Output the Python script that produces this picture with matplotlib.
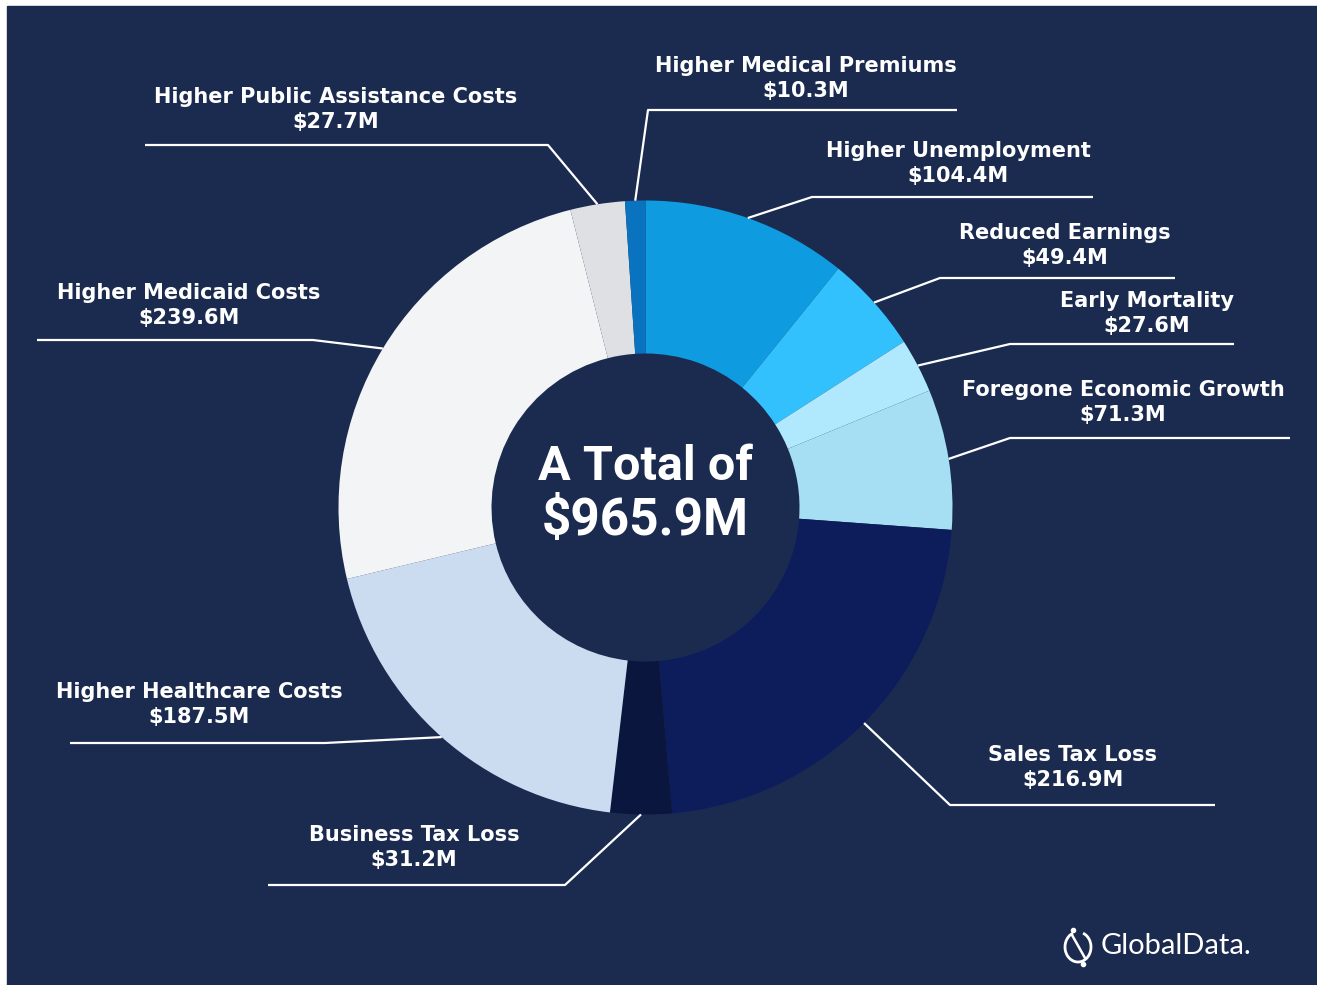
import numpy as np
import matplotlib
matplotlib.use("Agg")
from matplotlib import pyplot as plt
from matplotlib.patches import Rectangle, Arc

# Valores (em milhões de dólares), no sentido horário a partir do topo
categorias = ['Higher Unemployment', 'Reduced Earnings', 'Early Mortality',
              'Foregone Economic Growth', 'Sales Tax Loss', 'Business Tax Loss',
              'Higher Healthcare Costs', 'Higher Medicaid Costs',
              'Higher Public Assistance Costs', 'Higher Medical Premiums']
valores = [104.4, 49.4, 27.6, 71.3, 216.9, 31.2, 187.5, 239.6, 27.7, 10.3]
rotulos = ['$104.4M', '$49.4M', '$27.6M', '$71.3M', '$216.9M', '$31.2M',
           '$187.5M', '$239.6M', '$27.7M', '$10.3M']
cores = ['#0f9be0', '#33c1fd', '#b0e9fd', '#a6def3', '#0d1d5b', '#0b163e',
         '#ccdcf0', '#f3f4f6', '#dfe0e3', '#0a73c0']
total_txt = '$965.9M'

fundo = '#1b2b50'
W, H = 1317, 985

fig = plt.figure(figsize=(W / 100, H / 100), dpi=100, facecolor='white')
ax = fig.add_axes([0, 0, 1, 1])
ax.add_patch(Rectangle((7, 0), W - 7, H - 6, color=fundo, zorder=0))

# centro e raio em pixels (y invertido)
cx, cy, R = 645.5, H - 507.5, 307
ax.pie(valores, colors=cores, startangle=90, counterclock=False,
       radius=R, center=(cx, cy), frame=True,
       wedgeprops=dict(width=153, linewidth=0))
ax.set_xlim(0, W)
ax.set_ylim(0, H)
ax.set_aspect('equal')
ax.axis('off')

# texto central
ax.text(cx, H - 467, 'A Total of', ha='center', va='center', color='white',
        fontsize=35, fontweight='bold', family='Roboto')
ax.text(cx, H - 521, total_txt, ha='center', va='center', color='white',
        fontsize=37, fontweight='bold', family='Roboto')

# posição dos rótulos: (cotovelo x, cotovelo y, fim da linha x, texto x, texto y)
layout = [
    (812, 197, 1093, 958, 151),
    (940, 278, 1175, 1065, 233),
    (1010, 344, 1234, 1147, 301),
    (1010, 438, 1290, 1123, 390),
    (950, 805, 1215, 1073, 755),
    (565, 885, 268, 414, 835),
    (325, 743, 70, 199, 692),
    (313, 340, 37, 189, 293),
    (548, 145, 145, 336, 97),
    (648, 110, 957, 806, 66),
]

acum = np.cumsum([0] + valores)
tot = acum[-1]
for i, (nome, rot) in enumerate(zip(categorias, rotulos)):
    meio = (acum[i] + valores[i] / 2) / tot * 2 * np.pi
    x0 = cx + R * np.sin(meio)
    y0 = cy + R * np.cos(meio)
    ex, ey, fx, tx, ty = layout[i]
    ax.plot([x0, ex, fx], [y0, H - ey, H - ey], color='white', lw=1.6,
            solid_capstyle='butt', zorder=3)
    ax.text(tx, H - ty, nome, ha='center', va='center', color='white',
            fontsize=15, fontweight='bold')
    ax.text(tx, H - ty - 25, rot, ha='center', va='center', color='white',
            fontsize=15, fontweight='bold')

# logo GlobalData
ax.add_patch(Arc((1078, H - 947), 26, 30, theta1=110, theta2=430, color='white', lw=2))
ax.plot([1072, 1085], [H - 935, H - 958], color='white', lw=1.8)
ax.plot([1073], [H - 930], 'o', color='white', ms=3)
ax.plot([1083], [H - 964], 'o', color='white', ms=3)
ax.text(1101, H - 946, 'GlobalData.', ha='left', va='center', color='white',
        fontsize=21, family='Lato')

fig.savefig('out.png', dpi=100, facecolor='white')
